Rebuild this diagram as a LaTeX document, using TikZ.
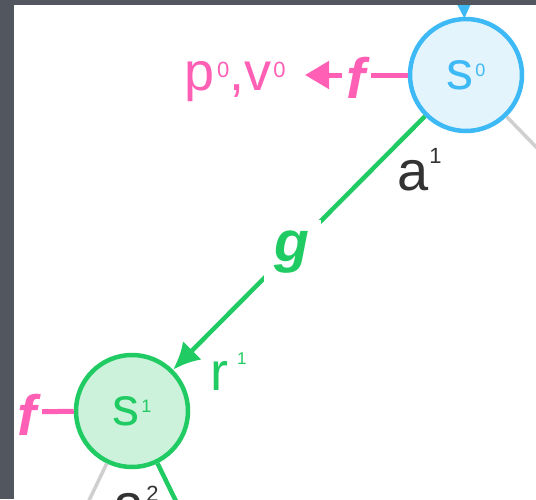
\documentclass[tikz,border=0pt]{standalone}
\usepackage{fontspec}
\setmainfont{Liberation Sans}
\usetikzlibrary{arrows.meta}
\definecolor{framecol}{HTML}{52565F}
\definecolor{sblue}{HTML}{3DB9F6}
\definecolor{sbluefill}{HTML}{E4F4FD}
\definecolor{sgreen}{HTML}{1FCB62}
\definecolor{sgreenfill}{HTML}{CCF2DC}
\definecolor{spink}{HTML}{FF5FB4}
\definecolor{sgray}{HTML}{CFCFCF}
\definecolor{sdark}{HTML}{333333}
\newcommand\supsc[3]{\raisebox{#2}{\fontsize{#3}{#3}\selectfont #1}}
\begin{document}
\begin{tikzpicture}[x=1pt,y=-1pt,
  statenode/.style={circle, minimum size=112pt, inner sep=0pt, line width=4.5pt},
  bigfont/.style={font=\fontsize{54}{54}\selectfont},
  bifont/.style={font=\fontsize{57}{57}\selectfont\bfseries\itshape},
  pinkline/.style={draw=spink, line width=5pt},
  greenline/.style={draw=sgreen, line width=4.5pt},
  grayline/.style={draw=sgray, line width=3.5pt},
  gaplabel/.style={fill=white, inner sep=5pt},
]
\fill[framecol] (0,0) rectangle (536,499);
\fill[white] (14,5) rectangle (536,499);
\begin{scope}
\clip (14,5) rectangle (536,499);
% states
\node[statenode, draw=sblue, fill=sbluefill, text=sblue, bigfont] (s0) at (466,75)
  {s\kern2pt\supsc{0}{13pt}{18}};
\node[statenode, draw=sgreen, fill=sgreenfill, text=sgreen, bigfont] (s1) at (132,411)
  {s\kern2pt\supsc{1}{13pt}{18}};
% free ends
\coordinate (topin) at (463,-30);
\coordinate (pvtip) at (305,75);
\coordinate (lefttip) at (-19,412);
\coordinate (grayend0) at (580,192);
\coordinate (grayend1) at (70,540);
\coordinate (greenend1) at (190,530);
% blue incoming arrow
\draw[draw=sblue, line width=4pt, -{Triangle[length=14pt,width=12pt]}, shorten >=-2pt] (topin) -- (s0);
% pink f arrows
\draw[pinkline, -{Triangle[length=24pt,width=27pt]}] (s0) --
  node[gaplabel, text=spink, bifont, yshift=-3pt] (f0) {f} (pvtip);
\node[anchor=base west, inner sep=0pt, text=spink, bigfont] (pv) at (184,90)
  {p\kern3pt\supsc{0}{13pt}{22},v\kern2pt\supsc{0}{13pt}{22}};
\draw[pinkline, -{Triangle[length=24pt,width=27pt]}] (s1) --
  node[gaplabel, text=spink, bifont, yshift=-3pt] (f1) {f} (lefttip);
% green action arrow
\draw[greenline, -{Latex[length=27pt,width=26pt]}] (s0) --
  node[pos=0.527, fill=white, inner sep=11pt, text=sgreen, bifont, yshift=-2pt] (g) {g} (s1);
\node[anchor=base west, inner sep=0pt, text=sdark, font=\fontsize{56}{56}\selectfont] (a1) at (397,190)
  {a\kern1pt\supsc{1}{27pt}{22}};
\node[anchor=base west, inner sep=0pt, text=sgreen, bigfont] (r1) at (210,390)
  {r\kern9pt\supsc{1}{26pt}{17}};
% other branches
\draw[grayline] (s0) -- (grayend0);
\draw[grayline] (s1) -- (grayend1);
\draw[greenline] (s1) -- (greenend1);
\node[anchor=base west, inner sep=0pt, text=sdark, font=\fontsize{56}{56}\selectfont] (a2) at (113,523)
  {a\kern2pt\supsc{2}{22pt}{22}};
\end{scope}
\end{tikzpicture}
\end{document}
